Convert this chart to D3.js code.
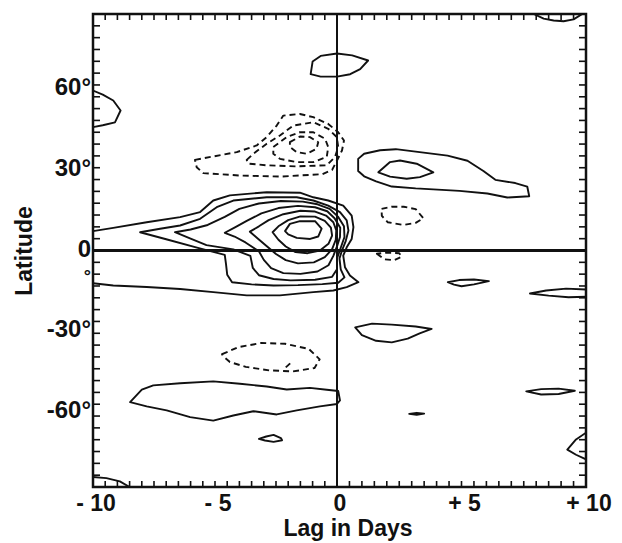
<!DOCTYPE html>
<html><head><meta charset="utf-8">
<script src="https://cdn.jsdelivr.net/npm/d3@7"></script>
<style>html,body{margin:0;padding:0;background:#fff}svg{display:block}</style>
</head><body>
<svg id="chart" width="622" height="543"></svg>
<script>
// ---------- DATA (lag in days, latitude in degrees) ----------
const lagTickValues = [-10, -5, 0, 5, 10];
const lagTickLabels = ["- 10", "- 5", "0", "+ 5", "+ 10"];
const latTickValues = [60, 30, 0, -30, -60];
const latTickLabels = ["60°", "30°", "0", "-30°", "-60°"];

// positive (solid) contours
const posNorth70 = [[-1.0,70.3],[-0.67,72.4],[0,73.3],[0.61,72.6],[1.25,70.7],[0.93,67.5],[0.53,65.6],[0,64.7],[-0.67,64.7],[-1.08,65.6]];
const posWestEdge50 = [[-10,59.5],[-9.6,58.0],[-9.17,55.8],[-8.87,52.1],[-9.1,47.7],[-9.6,46.6],[-10,45.9]];
const posCornerNE = [[7.9,88],[8.3,86.3],[8.7,85.6],[9.1,85.3],[9.5,86.0],[9.85,88]];
const posBand30Outer = [[0.85,34.1],[1.09,36.0],[1.73,37.3],[2.36,37.7],[3.32,36.6],[4.44,35.3],[5.24,33.4],[5.88,29.6],[6.36,26.3],[7.16,25.1],[7.64,23.8],[7.72,20.2],[6.84,19.7],[6.04,21.2],[4.92,22.2],[3.16,23.1],[2.2,23.8],[1.57,25.7],[1.09,27.6],[0.85,29.6]];
const posBand30Inner = [[1.66,29.1],[2.13,32.9],[2.53,33.5],[3.2,32.3],[3.87,29.1],[3.33,27.3],[2.8,26.7],[2.13,27.5]];
const eqLevel1 = [[-10,7.2],[-9.17,8.4],[-7.8,10.5],[-6.43,12.4],[-5.61,14.3],[-5.07,18.6],[-4.39,20.5],[-2.88,21.7],[-1.52,21.5],[-0.97,19.8],[-0.36,18.6],[0.25,16.7],[0.59,13.0],[0.66,8.7],[0.59,4.3],[0.39,1.2],[0.25,-1.9],[0.32,-6.2],[0.52,-9.3],[0.86,-11.8],[0.39,-13.6],[-0.15,-14.9],[-0.97,-15.5],[-2.34,-16.7],[-3.7,-16.7],[-5.07,-15.5],[-6.43,-14.3],[-7.8,-13.6],[-9.17,-13.0],[-10,-12.2]];
const eqLevel2 = [[-8.07,6.8],[-7.25,8.1],[-6.43,9.3],[-5.61,11.8],[-4.93,16.1],[-4.25,18.6],[-2.88,19.8],[-1.65,19.8],[-0.97,18.6],[-0.36,16.7],[0.12,14.3],[0.39,11.2],[0.46,7.4],[0.35,3.5],[0.2,0],[0.1,-3.0],[0.15,-7.0],[0.3,-10.0],[0.05,-12.0],[-0.6,-12.5],[-1.6,-12.9],[-2.6,-13.0],[-3.5,-12.6],[-4.3,-11.8],[-4.5,-9.0],[-4.55,-5.0],[-4.6,-1.6],[-5.7,1.0],[-7.0,4.2]];
const eqLevel3 = [[-6.64,6.8],[-6.0,7.8],[-5.3,9.5],[-4.6,12.5],[-4.0,15.5],[-3.2,17.5],[-2.3,18.4],[-1.4,18.2],[-0.8,17.2],[-0.3,15.5],[0.05,12.5],[0.28,9.0],[0.3,5.0],[0.15,1.0],[0.0,-3.0],[0.0,-7.0],[-0.2,-9.8],[-0.9,-10.9],[-1.9,-11.1],[-2.6,-10.6],[-3.2,-9.2],[-3.45,-6.5],[-3.55,-2.0],[-4.25,0.4],[-5.35,2.0],[-6.0,4.4]];
const eqLevel4 = [[-4.6,6.6],[-4.2,8.5],[-3.7,11.0],[-3.1,13.8],[-2.4,15.8],[-1.6,16.6],[-0.9,16.1],[-0.4,14.6],[-0.1,12.0],[0.13,8.5],[0.12,5.0],[0.0,1.5],[-0.15,-2.0],[-0.35,-5.5],[-0.8,-7.8],[-1.5,-8.7],[-2.2,-8.4],[-2.7,-6.6],[-3.0,-3.5],[-3.2,-0.3],[-3.75,3.0],[-4.2,5.2]];
const eqLevel5 = [[-3.57,7.0],[-3.2,9.0],[-2.8,11.3],[-2.2,13.5],[-1.5,14.8],[-0.9,14.5],[-0.45,13.0],[-0.15,10.5],[-0.03,7.5],[-0.05,4.0],[-0.2,0.5],[-0.5,-2.5],[-0.95,-4.4],[-1.6,-4.8],[-2.1,-3.6],[-2.5,-1.3],[-2.9,1.8],[-3.25,4.5]];
const eqLevel6 = [[-2.64,6.8],[-2.4,9.0],[-2.0,11.3],[-1.5,12.7],[-0.9,12.6],[-0.5,11.0],[-0.25,8.5],[-0.2,5.5],[-0.35,2.5],[-0.7,0.0],[-1.2,-1.0],[-1.7,-0.6],[-2.1,1.5],[-2.4,4.0]];
const eqLevel7 = [[-2.13,7.2],[-1.93,9.9],[-1.52,10.9],[-0.9,10.9],[-0.63,8.1],[-0.77,5.2],[-1.1,4.3],[-1.65,4.7],[-2.0,6.0]];
const posSouth30 = [[0.73,-28.6],[1.41,-27.2],[2.2,-27.6],[3.16,-28.3],[3.8,-29.2],[3.32,-30.8],[2.84,-32.8],[2.2,-34.2],[1.57,-33.6],[1.0,-31.5]];
const posSouth12 = [[4.45,-11.8],[4.9,-11.0],[5.5,-10.8],[6.1,-11.4],[5.5,-12.6],[5.0,-13.3],[4.7,-12.7]];
const posEdgeS16 = [[10,-14.5],[9.2,-14.2],[8.4,-14.9],[7.75,-16.0],[8.5,-16.8],[9.3,-17.4],[10,-17.2]];
const posS52 = [[7.6,-52.4],[8.2,-51.6],[8.9,-51.4],[9.55,-52.2],[8.9,-53.4],[8.2,-53.6]];
const posS60 = [[2.9,-60.8],[3.2,-60.4],[3.5,-60.7],[3.2,-61.1]];
const posEdgeS72 = [[10,-67.8],[9.6,-70.3],[9.25,-74.1],[9.6,-76.0],[10,-77.7]];
const posBandS55 = [[-8.48,-56.4],[-8.0,-51.8],[-7.53,-50.2],[-6.43,-49.4],[-5.07,-48.7],[-3.98,-49.6],[-2.88,-50.6],[-2.06,-51.7],[-1.11,-51.1],[-0.42,-51.8],[0.05,-52.3],[0.12,-55.8],[0.0,-57.1],[-0.7,-58.0],[-1.65,-59.5],[-2.47,-61.0],[-3.43,-59.8],[-4.25,-61.4],[-5.07,-63.3],[-6.02,-62.0],[-6.98,-59.5],[-7.8,-58.0]];
const posS70 = [[-3.2,-70.1],[-2.9,-69.2],[-2.6,-68.6],[-2.3,-69.8],[-2.25,-70.6],[-2.6,-71.2],[-2.95,-70.7]];
const posCornerSW = [[-10,-84.3],[-9.45,-84.7],[-8.9,-85.9],[-8.5,-88]];

// negative (dashed) contours
const negN1 = [[-5.82,33.7],[-5.07,35.0],[-4.11,36.6],[-3.29,39.1],[-2.88,42.2],[-2.47,46.5],[-2.2,50.2],[-1.52,50.8],[-0.97,49.6],[-0.36,47.1],[0.05,44.0],[0.28,40.9],[0.2,37.2],[0.0,33.5],[-0.2,30.0],[-0.6,28.4],[-2.34,27.5],[-3.98,27.9],[-5.48,28.8],[-5.75,31.0]];
const negN2 = [[-3.7,33.7],[-3.43,36.0],[-2.88,39.7],[-2.34,42.8],[-1.79,46.5],[-0.97,47.7],[-0.36,45.3],[-0.01,42.2],[0.05,38.5],[-0.08,34.8],[-0.42,31.7],[-1.65,31.3],[-2.88,31.7],[-3.63,32.3]];
const negN3 = [[-2.61,38.5],[-2.06,42.2],[-1.52,44.0],[-0.97,44.0],[-0.49,41.6],[-0.36,38.5],[-0.42,34.8],[-0.97,32.9],[-1.65,32.9],[-2.34,34.1],[-2.61,36.0]];
const negN4 = [[-1.93,40.3],[-1.52,42.4],[-1.11,42.2],[-0.77,40.3],[-0.84,37.8],[-1.24,36.0],[-1.65,36.6],[-1.93,38.5]];
const negN12 = [[1.79,15.5],[2.2,16.3],[2.68,16.3],[3.16,15.4],[3.47,12.0],[3.16,10.3],[2.66,9.5],[2.04,10.5],[1.8,12.9]];
const negEq = [[1.6,-1.2],[1.9,-3.3],[2.3,-3.6],[2.6,-2.3],[2.5,-1.0],[2.0,-0.8]];
const negS40 = [[-4.71,-38.6],[-4.06,-36.0],[-3.1,-34.4],[-2.13,-34.7],[-1.16,-36.6],[-0.71,-40.5],[-0.92,-43.7],[-1.81,-45.0],[-2.77,-44.6],[-3.74,-43.3],[-4.39,-41.5],[-4.68,-39.2]];
const negS40Hook = [[-2.1,-43.5],[-1.8,-41.0]];

const solidClosed = [posNorth70, posBand30Outer, posBand30Inner, eqLevel2, eqLevel3, eqLevel4, eqLevel5, eqLevel6, eqLevel7, posSouth30, posSouth12, posS52, posS60, posBandS55, posS70];
const solidOpen = [posWestEdge50, posCornerNE, eqLevel1, posEdgeS16, posEdgeS72, posCornerSW];
const dashedClosed = [negN1, negN2, negN3, negN4, negN12, negEq, negS40];
const dashedOpen = [negS40Hook];

// ---------- DRAWING ----------
const svg = d3.select("#chart");
svg.append("rect").attr("width", 622).attr("height", 543).attr("fill", "#fff");

const x = d3.scaleLinear().domain([-10, 0, 10]).range([93, 337, 586]);
const y = d3.scaleLinear().domain([-88, 88]).range([487, 14]);
const font = "'Liberation Sans', Arial, Helvetica, sans-serif";

svg.append("clipPath").attr("id", "plotclip")
  .append("rect").attr("x", x(-10)).attr("y", y(88)).attr("width", x(10) - x(-10)).attr("height", y(-88) - y(88));

const plot = svg.append("g").attr("clip-path", "url(#plotclip)");

const lineOpen = d3.line().x(d => x(d[0])).y(d => y(d[1])).curve(d3.curveLinear);
const lineClosed = d3.line().x(d => x(d[0])).y(d => y(d[1])).curve(d3.curveLinearClosed);

function draw(list, gen, dashed) {
  plot.selectAll(null).data(list).enter().append("path")
    .attr("d", gen)
    .attr("fill", "none")
    .attr("stroke", "#111")
    .attr("stroke-width", 1.9)
    .attr("stroke-linejoin", "round")
    .attr("stroke-dasharray", dashed ? "6,4" : null);
}
draw(solidClosed, lineClosed, false);
draw(solidOpen, lineOpen, false);
draw(dashedClosed, lineClosed, true);
draw(dashedOpen, lineOpen, true);

// zero lines
svg.append("line").attr("x1", x(-10)).attr("x2", x(10)).attr("y1", y(0)).attr("y2", y(0))
  .attr("stroke", "#111").attr("stroke-width", 2.8);
svg.append("line").attr("x1", x(0)).attr("x2", x(0)).attr("y1", y(88)).attr("y2", y(-88))
  .attr("stroke", "#111").attr("stroke-width", 2);

// minor ticks
const lagMinor = d3.range(-10, 10.001, 0.5);
const latMinor = d3.range(-88, 88.001, 4.4);
const tg = svg.append("g").attr("stroke", "#111").attr("stroke-width", 1.6);
lagMinor.forEach(v => {
  tg.append("line").attr("x1", x(v)).attr("x2", x(v)).attr("y1", y(-88)).attr("y2", y(-88) - 6);
  tg.append("line").attr("x1", x(v)).attr("x2", x(v)).attr("y1", y(88)).attr("y2", y(88) + 6);
});
latMinor.forEach(v => {
  tg.append("line").attr("x1", x(-10)).attr("x2", x(-10) + 7).attr("y1", y(v)).attr("y2", y(v));
  tg.append("line").attr("x1", x(10)).attr("x2", x(10) - 7).attr("y1", y(v)).attr("y2", y(v));
});

// frame
svg.append("rect").attr("x", x(-10)).attr("y", y(88)).attr("width", x(10) - x(-10)).attr("height", y(-88) - y(88))
  .attr("fill", "none").attr("stroke", "#111").attr("stroke-width", 2.5);

// x tick labels
svg.selectAll(null).data(lagTickValues).enter().append("text")
  .attr("x", d => x(d) + 3).attr("y", 511)
  .attr("text-anchor", "middle")
  .attr("font-family", font).attr("font-weight", "bold").attr("font-size", 23).attr("fill", "#111")
  .text((d, i) => lagTickLabels[i]);

// y tick labels
svg.selectAll(null).data(latTickValues).enter().append("text")
  .attr("x", 91).attr("y", d => y(d) + 6)
  .attr("text-anchor", "end")
  .attr("font-family", font).attr("font-weight", "bold").attr("font-size", 24).attr("fill", "#111")
  .text((d, i) => latTickLabels[i]);
// displaced degree mark under the "0" label
svg.append("text").attr("x", 91).attr("y", y(0) + 31).attr("text-anchor", "end")
  .attr("font-family", font).attr("font-weight", "bold").attr("font-size", 18).attr("fill", "#111").text("°");

// axis titles
svg.append("text").attr("x", 348).attr("y", 536).attr("text-anchor", "middle")
  .attr("font-family", font).attr("font-weight", "bold").attr("font-size", 23).attr("fill", "#111")
  .text("Lag in Days");
svg.append("text").attr("transform", "translate(32,251) rotate(-90)").attr("text-anchor", "middle")
  .attr("font-family", font).attr("font-weight", "bold").attr("font-size", 23).attr("fill", "#111")
  .text("Latitude");
</script>
</body></html>
